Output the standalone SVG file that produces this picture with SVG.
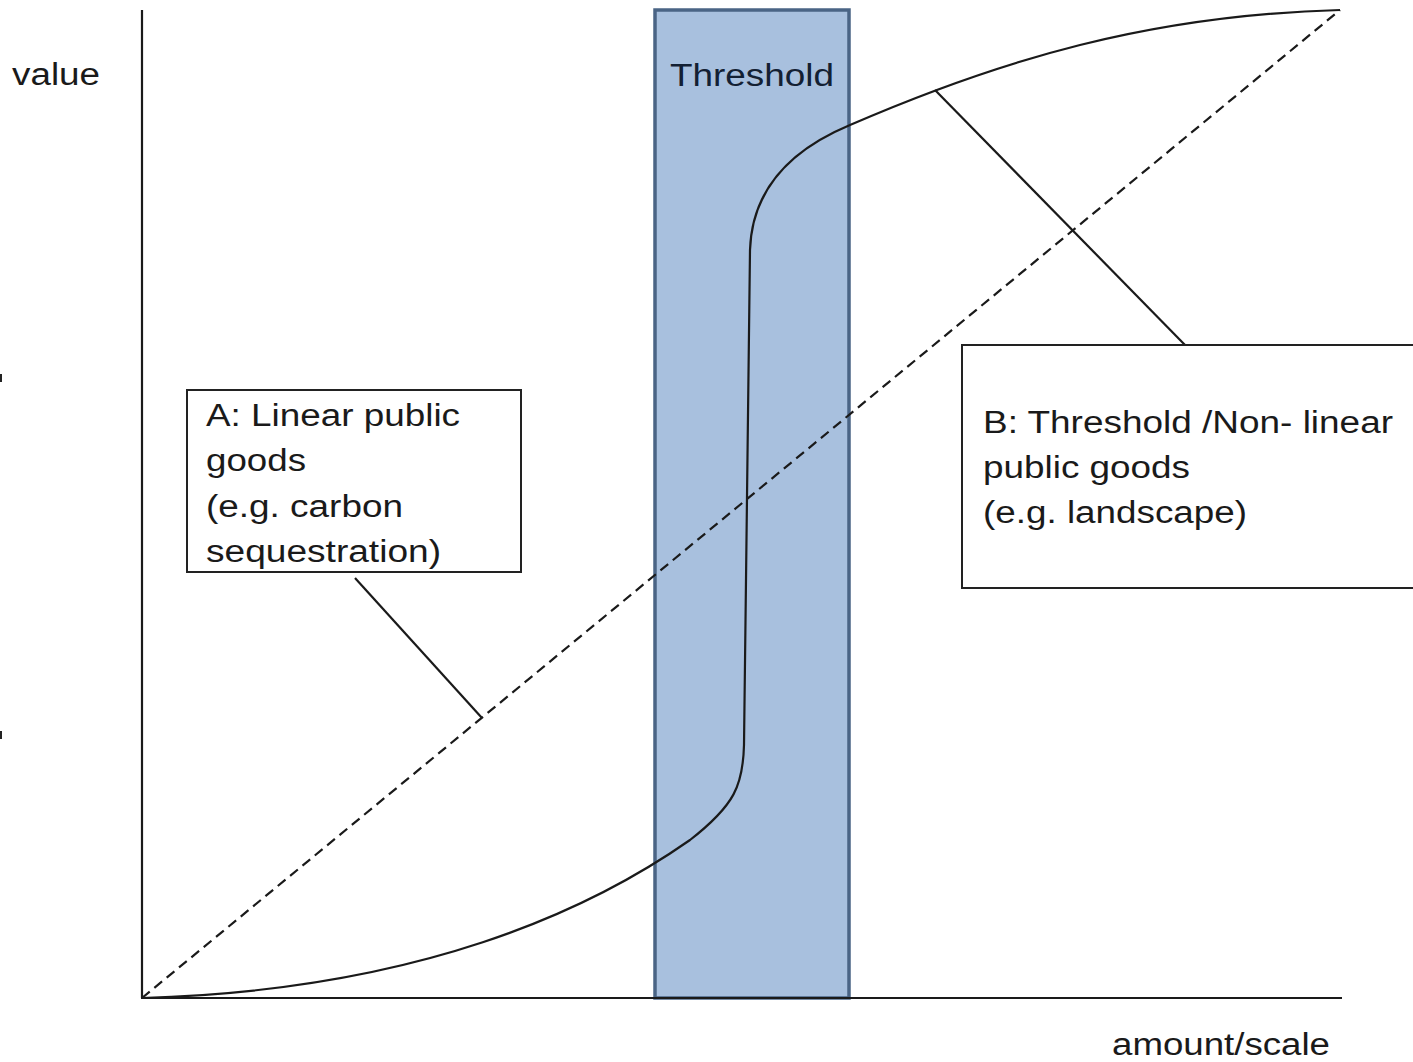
<svg xmlns="http://www.w3.org/2000/svg" width="1413" height="1062" viewBox="0 0 1413 1062">
<style>
text{font-family:"Liberation Sans",Arial,sans-serif;fill:#1a1a1a;font-size:31px}
.box{fill:#fff;stroke:#222;stroke-width:2}
.ln{fill:none;stroke:#1a1a1a;stroke-width:2.2}
</style>
<rect width="1413" height="1062" fill="#fff"/>
<g id="threshold">
<rect x="655" y="10" width="194" height="988" fill="#a8c0de" stroke="#4a6485" stroke-width="3.5"/>
<text x="670" y="86" font-size="32" textLength="164" lengthAdjust="spacingAndGlyphs" style="fill:#132033">Threshold</text>
</g>
<g id="connectors">
<line class="ln" x1="142" y1="998" x2="1340" y2="10" stroke-dasharray="10,6"/>
<path class="ln" stroke-width="2.6" d="M142,998 C420,990 590,910 690,840 C735,805 743,785 744,745 L750,250 C752,190 790,150 850,125 C1000,60 1150,15 1340,10"/>
<line class="ln" x1="355" y1="578" x2="482" y2="718"/>
<line class="ln" x1="935" y1="90" x2="1185" y2="345"/>
</g>
<g id="axes">
<line class="ln" stroke-width="3" x1="142" y1="10" x2="142" y2="998"/>
<line class="ln" stroke-width="3" x1="141" y1="998" x2="1342" y2="998"/>
<text x="12" y="85" font-size="30" textLength="88" lengthAdjust="spacingAndGlyphs">value</text>
<text x="1112" y="1055" font-size="30" textLength="218" lengthAdjust="spacingAndGlyphs">amount/scale</text>
</g>
<g id="boxA">
<rect class="box" x="187" y="390" width="334" height="182"/>
<text x="206" y="426" textLength="254" lengthAdjust="spacingAndGlyphs">A: Linear public</text>
<text x="206" y="471" textLength="100" lengthAdjust="spacingAndGlyphs">goods</text>
<text x="206" y="517" textLength="197" lengthAdjust="spacingAndGlyphs">(e.g. carbon</text>
<text x="206" y="562" textLength="235" lengthAdjust="spacingAndGlyphs">sequestration)</text>
</g>
<g id="boxB">
<rect class="box" x="962" y="345" width="460" height="243"/>
<text x="983" y="433" textLength="410" lengthAdjust="spacingAndGlyphs">B: Threshold /Non- linear</text>
<text x="983" y="478" textLength="207" lengthAdjust="spacingAndGlyphs">public goods</text>
<text x="983" y="523" textLength="264" lengthAdjust="spacingAndGlyphs">(e.g. landscape)</text>
</g>
<rect x="0" y="374" width="2" height="8" fill="#222"/>
<rect x="0" y="731" width="2" height="8" fill="#222"/>
</svg>
